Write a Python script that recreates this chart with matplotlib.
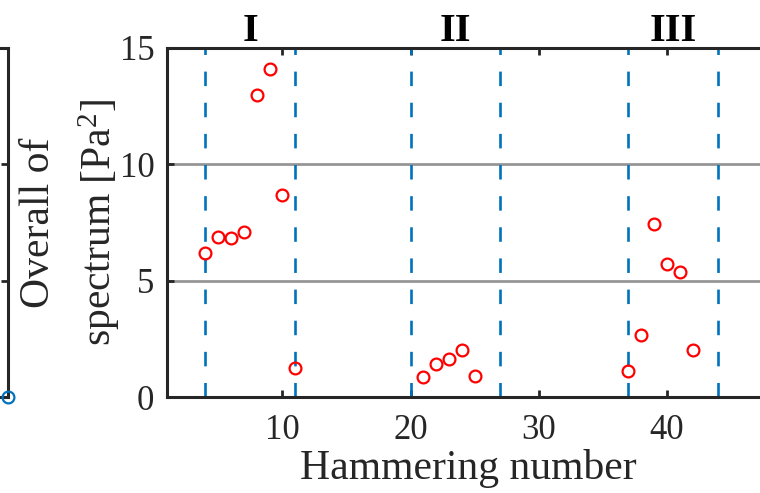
import matplotlib
matplotlib.use("Agg")
import matplotlib.pyplot as plt

plt.rcParams['font.family'] = ['Liberation Serif', 'DejaVu Serif']
plt.rcParams['mathtext.fontset'] = 'custom'
plt.rcParams['mathtext.rm'] = 'Liberation Serif'
plt.rcParams['mathtext.it'] = 'Liberation Serif:italic'

# Overall spectrum level per hammering
hammer_I = [4, 5, 6, 7, 8, 9, 10, 11]
overall_I = [6.17, 6.87, 6.82, 7.08, 13.0, 14.09, 8.69, 1.23]
hammer_II = [21, 22, 23, 24, 25]
overall_II = [0.88, 1.40, 1.62, 2.00, 0.91]
hammer_III = [37, 38, 39, 40, 41, 42]
overall_III = [1.12, 2.67, 7.45, 5.72, 5.36, 2.02]

# Group boundaries and names
group_bounds = [(4, 11), (20, 27), (37, 44)]
group_names = ["I", "II", "III"]
ref_levels = [5, 10]

x_ticks = [10, 20, 30, 40]
y_ticks = [0, 5, 10, 15]

# Neighbouring panel (only its right edge is in view)
prev_x = [1.0]
prev_y = [0.0]

W, H = 760, 493
fig = plt.figure(figsize=(W / 100, H / 100), dpi=100)

edge = '#262626'
blue = '#0072BD'

# main panel geometry (pixels)
left_px, right_px = 167.0, 769.5
top_px, bot_px = 48.0, 397.0
ax = fig.add_axes([left_px / W, 1 - bot_px / H,
                   (right_px - left_px) / W, (bot_px - top_px) / H])

for (a, b) in group_bounds:
    for xv in (a, b):
        ax.axvline(xv, color=blue, lw=1.9, ls=(0, (5.5, 6.3)), zorder=2)

for lv in ref_levels:
    ax.axhline(lv, color='#969696', lw=2.0, zorder=1)

for xs, ys in [(hammer_I, overall_I), (hammer_II, overall_II), (hammer_III, overall_III)]:
    ax.plot(xs, ys, 'o', ls='none', mfc='none', mec='#FF0000', mew=1.6, ms=8.5,
            zorder=3, clip_on=False)

ax.set_xlim(1, 48)
ax.set_ylim(0, 15)
ax.set_xticks(x_ticks)
ax.set_yticks(y_ticks)
ax.tick_params(direction='in', length=5, width=2, color=edge, labelsize=25,
               top=True, right=True, labelcolor=edge)
ax.tick_params(axis='y', pad=9)
ax.tick_params(axis='x', pad=12)
for s in ax.spines.values():
    s.set_linewidth(2.2)
    s.set_color(edge)

for (a, b), name in zip(group_bounds, group_names):
    ax.text((a + b) / 2, 1.02, name, transform=ax.get_xaxis_transform(),
            ha='center', va='baseline', fontsize=29, fontweight='bold', color='black')

ax.set_xlabel('Hammering number', fontsize=30, color=edge, labelpad=2)
ax.set_ylabel('Overall of\nspectrum [Pa$^{\\mathrm{2}}$]', fontsize=30, color=edge,
              labelpad=-1.5, linespacing=1.5)

# right edge of the neighbouring panel
ax0 = fig.add_axes([-0.3, 1 - bot_px / H, 0.3 + 7.5 / W, (bot_px - top_px) / H])
ax0.plot(prev_x, prev_y, 'o', ls='none', mfc='none', mec=blue, mew=1.6, ms=8.5,
         clip_on=False, zorder=3)
ax0.set_xlim(0, 1)
ax0.set_ylim(0, 15)
ax0.set_yticks(y_ticks)
ax0.set_xticks([])
ax0.tick_params(direction='in', length=5, width=2, color=edge, right=True,
                left=False, labelleft=False)
for s in ax0.spines.values():
    s.set_linewidth(2.2)
    s.set_color(edge)

fig.savefig('out.png', dpi=100)
